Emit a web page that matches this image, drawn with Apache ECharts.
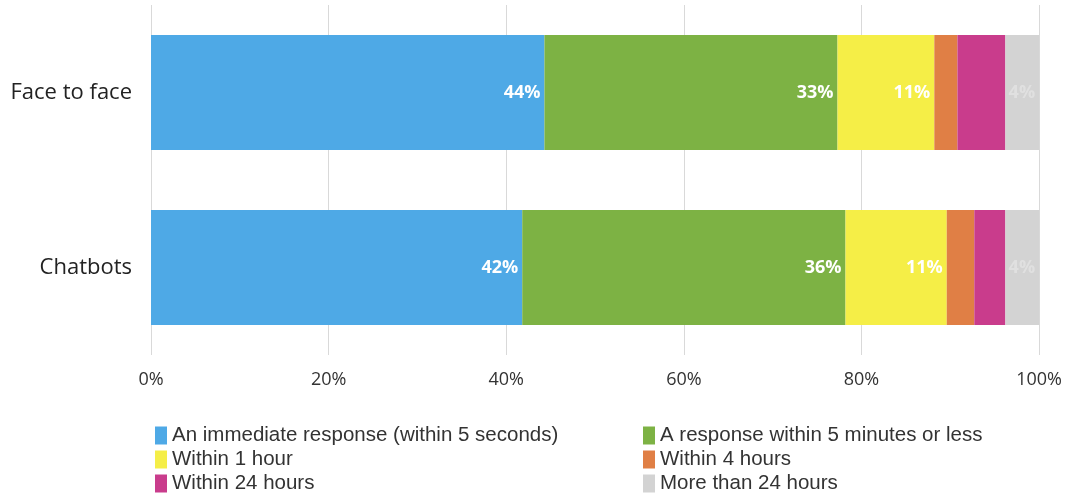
<!DOCTYPE html>
<html><head><meta charset="utf-8">
<script src="https://cdn.jsdelivr.net/npm/echarts@6/dist/echarts.min.js"></script>
<style>html,body{margin:0;padding:0;background:#fff}#c{width:1065px;height:497px}</style>
</head><body><div id="c"></div>
<script>
const categories = ['Chatbots', 'Face to face'];
const seriesNames = ['An immediate response (within 5 seconds)','A response within 5 minutes or less','Within 1 hour','Within 4 hours','Within 24 hours','More than 24 hours'];
const immediate = [41.8, 44.3];
const within5min = [36.4, 33.0];
const within1h = [11.4, 10.9];
const within4h = [3.1, 2.6];
const within24h = [3.5, 5.4];
const moreThan24h = [3.8, 3.8];
const xTicks = [0, 20, 40, 60, 80, 100];
const colors = ['#4ea9e6','#7db244','#f5ee47','#e07f45','#c93c8c','#d3d3d3'];
const showLabel = [true, true, true, false, false, true];
const values = [immediate, within5min, within1h, within4h, within24h, moreThan24h];
const font = '"Open Sans", sans-serif';
const legendFont = '"Liberation Sans", Arial, sans-serif';

const chart = echarts.init(document.getElementById('c'));
const legendCommon = {orient: 'vertical', top: 425, height: 120, padding: 0, itemWidth: 12, itemHeight: 18, itemGap: 3, itemStyle: {borderWidth: 0},
  icon: 'rect', textStyle: {fontSize: 20.5, color: '#333', lineHeight: 18, fontFamily: legendFont}};
chart.setOption({
  animation: false,
  textStyle: {fontFamily: font},
  grid: {left: 151, right: 25, top: 5, bottom: 142},
  xAxis: {
    type: 'value', min: 0, max: 100, interval: 20,
    axisLine: {show: false}, axisTick: {show: false},
    splitLine: {lineStyle: {color: '#d9d9d9', width: 1}},
    axisLabel: {formatter: v => v + '%', color: '#333', fontSize: 18, margin: 16, fontFamily: font}
  },
  yAxis: {
    type: 'category', data: categories,
    axisLine: {show: false}, axisTick: {show: false},
    axisLabel: {color: '#222', fontSize: 22, margin: 19, fontFamily: font}
  },
  legend: [
    Object.assign({left: 155, data: [seriesNames[0], seriesNames[2], seriesNames[4]]}, legendCommon),
    Object.assign({left: 643, data: [seriesNames[1], seriesNames[3], seriesNames[5]]}, legendCommon)
  ],
  series: values.map((v, i) => ({
    name: seriesNames[i], type: 'bar', stack: 'all', data: v,
    barWidth: 115,
    itemStyle: {color: colors[i]},
    label: {show: showLabel[i], position: 'insideRight', distance: 4,
      formatter: p => Math.round(p.value) + '%', color: i === 5 ? 'rgba(255,255,255,0.3)' : '#fff',
      fontWeight: 'bold', fontSize: 18, fontFamily: font}
  }))
});
</script></body></html>
